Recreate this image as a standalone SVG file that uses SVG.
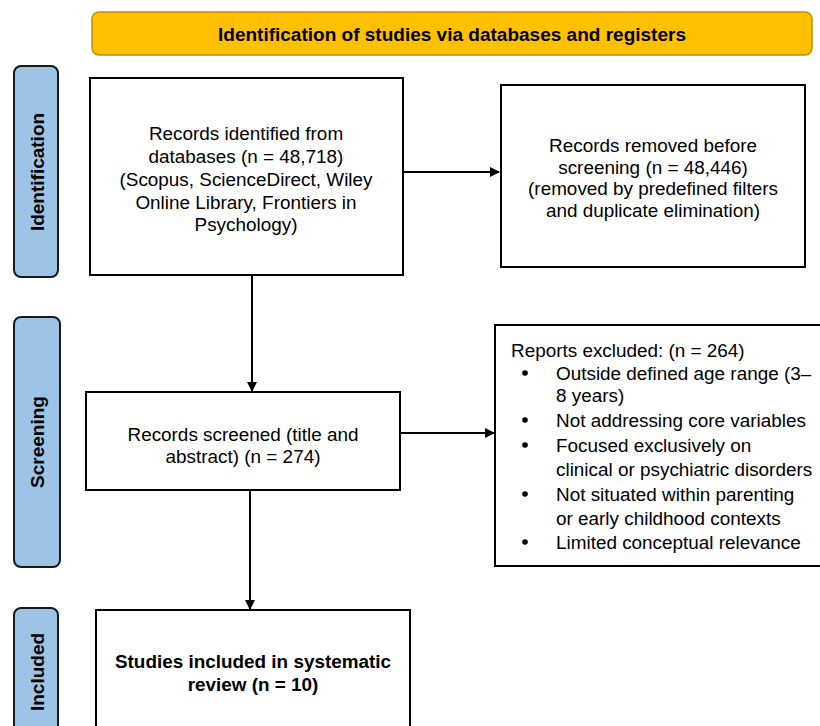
<svg xmlns="http://www.w3.org/2000/svg" width="820" height="726" viewBox="0 0 820 726">
<style>
.box{fill:#fff;stroke:#000;stroke-width:2}
.side{fill:#9DC3E6;stroke:#1a1a1a;stroke-width:2}
.t{font-family:"Liberation Sans",Arial,sans-serif;font-size:18.9px;fill:#000}
.c{text-anchor:middle}
.b{font-weight:bold}
.st{font-family:"Liberation Sans",Arial,sans-serif;font-size:19px;font-weight:bold;fill:#000;text-anchor:middle}
.conn{stroke:#000;stroke-width:2;fill:none}
</style>
<defs>
<marker id="arr" markerWidth="10" markerHeight="10" refX="9" refY="5" orient="auto" markerUnits="userSpaceOnUse" viewBox="0 0 10 10">
<path d="M0,0 L10,5 L0,10 z" fill="#000"/>
</marker>
</defs>
<rect width="820" height="726" fill="#fff"/>
<g id="header">
<rect x="92" y="12" width="720" height="43" rx="7" fill="#FFC000" stroke="#BF9000" stroke-width="1.5"/>
<text x="452" y="41" class="t c b" font-size="19.5" textLength="468" lengthAdjust="spacingAndGlyphs">Identification of studies via databases and registers</text>
</g>
<g id="side-identification">
<rect x="14" y="66" width="44" height="211" rx="7" class="side"/>
<text class="st" transform="translate(44,172) rotate(-90)">Identification</text>
</g>
<g id="side-screening">
<rect x="14" y="317" width="46" height="250" rx="7" class="side"/>
<text class="st" transform="translate(44,442) rotate(-90)">Screening</text>
</g>
<g id="side-included">
<rect x="14" y="608" width="44" height="130" rx="7" class="side"/>
<text class="st" transform="translate(44,672) rotate(-90)">Included</text>
</g>
<g id="records-identified">
<rect x="90" y="78" width="313" height="197" class="box"/>
<text class="t c" x="246"><tspan x="246" y="140">Records identified from</tspan><tspan x="246" y="163">databases (n = 48,718)</tspan><tspan x="246" y="186">(Scopus, ScienceDirect, Wiley</tspan><tspan x="246" y="209">Online Library, Frontiers in</tspan><tspan x="246" y="231">Psychology)</tspan></text>
</g>
<g id="records-removed">
<rect x="501" y="85" width="304" height="182" class="box"/>
<text class="t c"><tspan x="653" y="152">Records removed before</tspan><tspan x="653" y="174">screening (n = 48,446)</tspan><tspan x="653" y="195">(removed by predefined filters</tspan><tspan x="653" y="217">and duplicate elimination)</tspan></text>
</g>
<g id="records-screened">
<rect x="86" y="392" width="314" height="98" class="box"/>
<text class="t c"><tspan x="243" y="441">Records screened (title and</tspan><tspan x="243" y="463">abstract) (n = 274)</tspan></text>
</g>
<g id="reports-excluded">
<rect x="495" y="325" width="330" height="241" class="box"/>
<text class="t"><tspan x="511" y="357">Reports excluded: (n = 264)</tspan><tspan x="556" y="380">Outside defined age range (3–</tspan><tspan x="556" y="402">8 years)</tspan><tspan x="556" y="427">Not addressing core variables</tspan><tspan x="556" y="452">Focused exclusively on</tspan><tspan x="556" y="476">clinical or psychiatric disorders</tspan><tspan x="556" y="501">Not situated within parenting</tspan><tspan x="556" y="525">or early childhood contexts</tspan><tspan x="556" y="549">Limited conceptual relevance</tspan></text>
<g fill="#000"><circle cx="525" cy="373" r="2.8"/><circle cx="525" cy="420" r="2.8"/><circle cx="525" cy="445" r="2.8"/><circle cx="525" cy="494" r="2.8"/><circle cx="525" cy="542" r="2.8"/></g>
</g>
<g id="studies-included">
<rect x="96" y="610" width="314" height="130" class="box"/>
<text class="t c b"><tspan x="253" y="668">Studies included in systematic</tspan><tspan x="253" y="691">review (n = 10)</tspan></text>
</g>
<g id="connectors">
<line x1="252" y1="275" x2="252" y2="391" class="conn" marker-end="url(#arr)"/>
<line x1="403" y1="172" x2="499" y2="172" class="conn" marker-end="url(#arr)"/>
<line x1="400" y1="433" x2="494" y2="433" class="conn" marker-end="url(#arr)"/>
<line x1="250" y1="490" x2="250" y2="609" class="conn" marker-end="url(#arr)"/>
</g>
</svg>
